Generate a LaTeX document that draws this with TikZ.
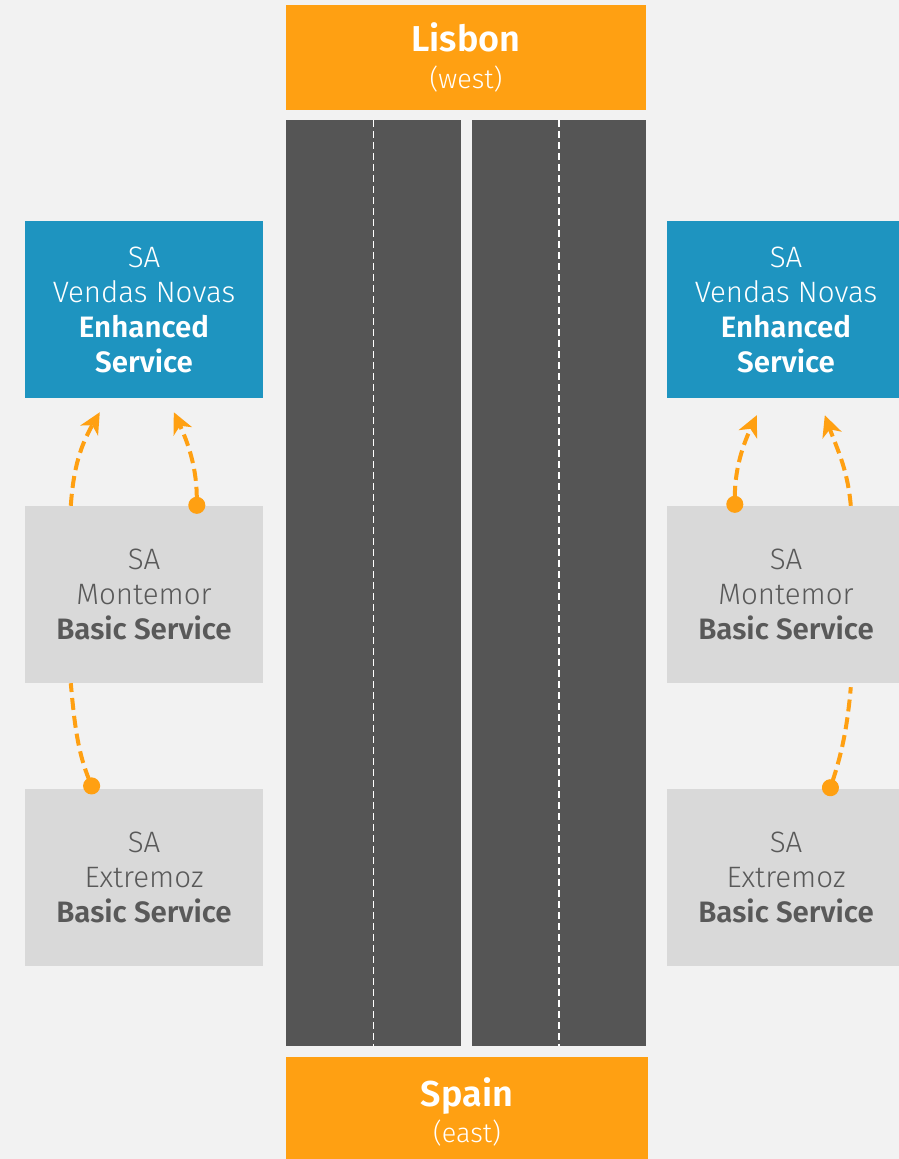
\documentclass[tikz,border=0pt]{standalone}
\usepackage{fontspec}
\setmainfont{Fira Sans}[UprightFont=* Light, BoldFont=* SemiBold]
\usepackage{tikz}
\usetikzlibrary{arrows.meta}
\usepackage{xcolor}
\definecolor{sabg}{RGB}{242,242,242}
\definecolor{saorange}{RGB}{255,160,18}
\definecolor{sablue}{RGB}{30,148,192}
\definecolor{saroad}{RGB}{85,85,85}
\definecolor{sagray}{RGB}{217,217,217}
\definecolor{satext}{RGB}{89,89,89}
\tikzstyle{city} = [rectangle, minimum width=360pt, minimum height=105pt, inner sep=0pt, fill=saorange, text=white, align=center]
\tikzstyle{enhanced} = [rectangle, minimum width=238pt, minimum height=177pt, inner sep=0pt, fill=sablue, text=white, align=center, font=\fontsize{29.5}{35}\selectfont]
\tikzstyle{basic} = [rectangle, minimum width=238pt, minimum height=177pt, inner sep=0pt, fill=sagray, text=satext, align=center, font=\fontsize{29.5}{35}\selectfont]
\tikzstyle{road} = [rectangle, minimum height=926pt, inner sep=0pt, fill=saroad]
\tikzstyle{lane} = [white, line width=1.5pt, dash pattern=on 7pt off 4pt]
\tikzstyle{link} = [line width=4pt, dash pattern=on 12pt off 6pt, color=saorange]
\tikzstyle{tip} = [-{Stealth[length=21pt,width=20pt,inset=6pt]}]
\tikzstyle{dottip} = [{Circle[length=17pt]}-{Stealth[length=21pt,width=20pt,inset=6pt]}]
\tikzstyle{dot} = [{Circle[length=17pt]}-]

\begin{document}
\begin{tikzpicture}[x=1pt, y=1pt]
\fill[sabg] (0,0) rectangle (899,-1159);
\clip (0,0) rectangle (899,-1159);

% Road
\node[road, minimum width=175pt] (roadL) at (373.5,-583) {};
\node[road, minimum width=174pt] (roadR) at (559,-583) {};
\draw[lane] (roadL.north) -- (roadL.south);
\draw[lane] (roadR.north) -- (roadR.south);

% Ends of the road
\node[city] (lisbon) at (466,-57.5) {{\fontsize{36}{40}\selectfont\textbf{Lisbon}}\\[13pt]{\fontsize{27}{30}\selectfont(west)}};
\node[city, minimum width=362pt, minimum height=110pt] (spain) at (467,-1112) {{\fontsize{36}{40}\selectfont\textbf{Spain}}\\[4pt]{\fontsize{27}{30}\selectfont(east)}};

% Left side
\node[enhanced] (vnL) at (144,-309.5) {SA\\Vendas Novas\\\textbf{Enhanced}\\\textbf{Service}};
\node[basic] (mmL) at (144,-594.5) {SA\\Montemor\\\textbf{Basic Service}};
\node[basic] (exL) at (144,-877.5) {SA\\Extremoz\\\textbf{Basic Service}};

% Right side
\node[enhanced] (vnR) at (786,-309.5) {SA\\Vendas Novas\\\textbf{Enhanced}\\\textbf{Service}};
\node[basic] (mmR) at (786,-594.5) {SA\\Montemor\\\textbf{Basic Service}};
\node[basic] (exR) at (786,-877.5) {SA\\Extremoz\\\textbf{Basic Service}};

% Handovers
\draw[link, tip] ([xshift=46pt]mmL.north west) to[out=86,in=240] ([xshift=75pt,yshift=-14pt]vnL.south west);
\draw[link, dottip] ([xshift=172pt,yshift=-8pt]mmL.north west) to[out=90,in=-65] ([xshift=149pt,yshift=-14pt]vnL.south west);
\draw[link, dot] ([xshift=70pt,yshift=-5pt]exL.north west) to[out=112,in=-85] ([xshift=46pt]mmL.south west);

\draw[link, dottip] ([xshift=68pt,yshift=-7pt]mmR.north west) to[out=90,in=245] ([xshift=90pt,yshift=-17pt]vnR.south west);
\draw[link, tip] ([xshift=184pt]mmR.north west) to[out=95,in=-70] ([xshift=158pt,yshift=-17pt]vnR.south west);
\draw[link, dot] ([xshift=161pt,yshift=-7pt]exR.north west) to[out=72,in=-95] ([xshift=184pt,yshift=-4pt]mmR.south west);
\end{tikzpicture}
\end{document}
